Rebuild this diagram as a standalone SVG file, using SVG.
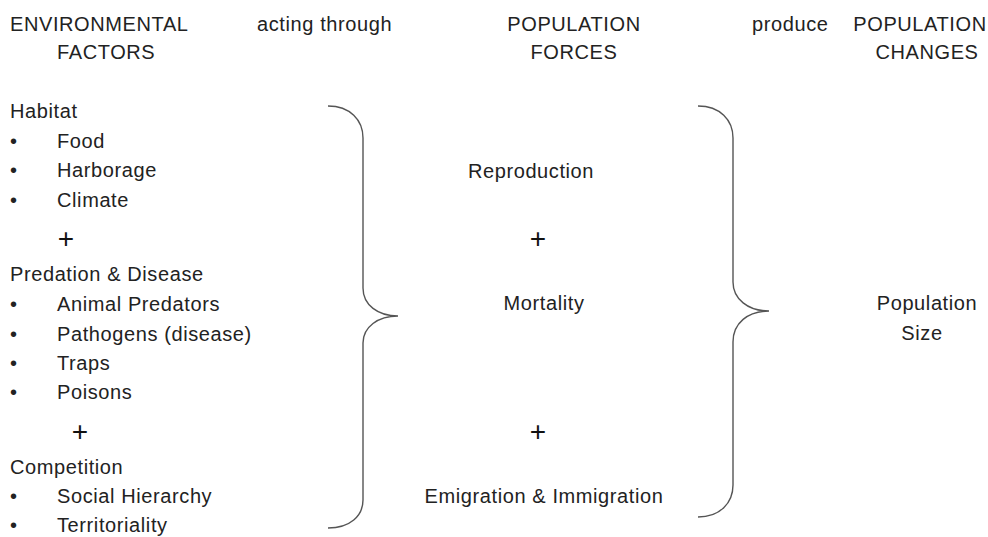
<svg xmlns="http://www.w3.org/2000/svg" width="988" height="537" viewBox="0 0 988 537">
<style>
text { font-family: "Liberation Sans", Arial, sans-serif; font-size: 20px; fill: #222; letter-spacing: 0.6px; }
.m { text-anchor: middle; }
.p { font-size: 28px; fill: #111; letter-spacing: 0; }
.brace { fill: none; stroke: #555; stroke-width: 1.4; }
</style>
<rect width="988" height="537" fill="#fff"/>
<g id="headers">
<text x="10" y="31">ENVIRONMENTAL</text>
<text x="57" y="59">FACTORS</text>
<text x="257" y="31">acting through</text>
<text x="574" y="31" class="m">POPULATION</text>
<text x="574" y="59" class="m">FORCES</text>
<text x="752" y="31">produce</text>
<text x="920" y="31" class="m">POPULATION</text>
<text x="927" y="59" class="m">CHANGES</text>
</g>
<g id="factors">
<text x="10" y="118">Habitat</text>
<text x="10" y="148">•</text><text x="57" y="148">Food</text>
<text x="10" y="177">•</text><text x="57" y="177">Harborage</text>
<text x="10" y="207">•</text><text x="57" y="207">Climate</text>
<text x="66" y="248" class="m p">+</text>
<text x="10" y="281">Predation &amp; Disease</text>
<text x="10" y="311">•</text><text x="57" y="311">Animal Predators</text>
<text x="10" y="341">•</text><text x="57" y="341">Pathogens (disease)</text>
<text x="10" y="370">•</text><text x="57" y="370">Traps</text>
<text x="10" y="399">•</text><text x="57" y="399">Poisons</text>
<text x="80" y="441" class="m p">+</text>
<text x="10" y="474">Competition</text>
<text x="10" y="503">•</text><text x="57" y="503">Social Hierarchy</text>
<text x="10" y="532">•</text><text x="57" y="532">Territoriality</text>
</g>
<g id="forces">
<text x="531" y="178" class="m">Reproduction</text>
<text x="538" y="248" class="m p">+</text>
<text x="544" y="310" class="m">Mortality</text>
<text x="538" y="441" class="m p">+</text>
<text x="544" y="503" class="m">Emigration &amp; Immigration</text>
</g>
<g id="changes">
<text x="927" y="310" class="m">Population</text>
<text x="922" y="340" class="m">Size</text>
</g>
<g id="connectors">
<path class="brace" d="M328,106 C350,106 363,120 363,138 L363,288 C363,305 378,316 398,316 C378,316 363,327 363,343 L363,500 C363,516 350,528 328,528"/>
<path class="brace" d="M698,106 C720,106 733,120 733,138 L733,282 C733,299 748,311 769,311 C748,311 733,323 733,342 L733,485 C733,503 720,517 698,517"/>
</g>
</svg>
